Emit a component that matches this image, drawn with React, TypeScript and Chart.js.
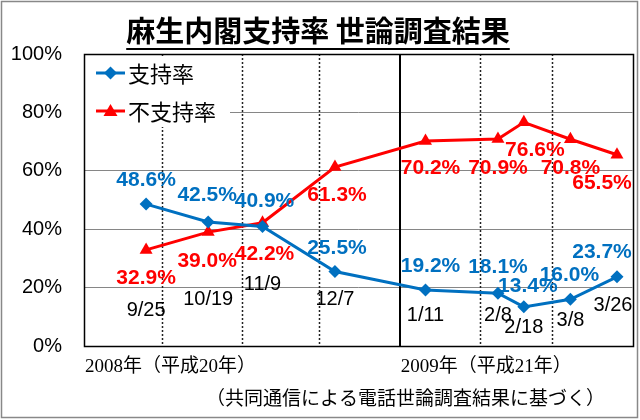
import React, { useEffect, useRef } from 'react';
import { Chart, registerables } from 'chart.js';

Chart.register(...registerables);

// ---- data ----
const titleText = '麻生内閣支持率 世論調査結果';
const seriesNames = ['支持率', '不支持率'];
const surveyDates = ['2008-09-25', '2008-10-19', '2008-11-09', '2008-12-07', '2009-01-11', '2009-02-08', '2009-02-18', '2009-03-08', '2009-03-26'];
const dateLabels = ['9/25', '10/19', '11/9', '12/7', '1/11', '2/8', '2/18', '3/8', '3/26'];
const supportRate = [48.6, 42.5, 40.9, 25.5, 19.2, 18.1, 13.4, 16.0, 23.7];
const disapprovalRate = [32.9, 39.0, 42.2, 61.3, 70.2, 70.9, 76.6, 70.8, 65.5];
const yTickValues = [0, 20, 40, 60, 80, 100];
const periodStart = '2008-09-01';
const periodEnd = '2009-04-01';
const monthStarts = ['2008-10-01', '2008-11-01', '2008-12-01', '2009-01-01', '2009-02-01', '2009-03-01'];
const yearBoundary = '2009-01-01';
const yearLabels = ['2008年（平成20年）', '2009年（平成21年）'];
const yearLabelStarts = ['2008-09-01', '2009-01-01'];
const sourceText = '（共同通信による電話世論調査結果に基づく）';

// ---- label placement (style) ----
const supportLabelShift = [[0, -24], [-1, -27], [2, -25], [2, -23], [5, -24], [0, -26], [4, -21], [-1, -24], [-15, -25]];
const disapprovalLabelShift = [[0, 28], [-1, 29], [2, 31], [2, 28], [5, 27], [0, 29], [11, 28], [0, 29], [-15, 28]];
const dateLabelLevel = [12, 16.1, 20.9, 16.1, 10.6, 10.6, 6.5, 8.6, 14];
const dateLabelShiftX = [0, 0, 0, 0, 0, 0, 0, 0, -4];

const BLUE = '#0070C0';
const RED = '#FF0000';
const DAY = 86400000;
const dayOf = (d: string) => Math.round((Date.parse(d) - Date.parse(periodStart)) / DAY);

const LATIN = '"Liberation Sans", "Noto Sans CJK JP", sans-serif';
const CJK = '"Noto Sans CJK JP", sans-serif';

const decor = {
  id: 'decor',
  beforeDraw(chart: any) {
    const { ctx, width, height } = chart;
    ctx.save();
    ctx.fillStyle = '#fff';
    ctx.fillRect(0, 0, width, height);
    ctx.restore();
  },
  beforeDatasetsDraw(chart: any) {
    const { ctx, chartArea, scales } = chart;
    const { left, top, bottom } = chartArea;
    const x = scales.x;
    ctx.save();
    monthStarts.forEach((d) => {
      const px = Math.round(x.getPixelForValue(dayOf(d)));
      ctx.beginPath();
      if (d === yearBoundary) {
        ctx.setLineDash([]);
        ctx.lineWidth = 2;
        ctx.strokeStyle = '#000';
        ctx.moveTo(px, top);
        ctx.lineTo(px, bottom);
      } else {
        ctx.setLineDash([2, 2]);
        ctx.lineWidth = 1.5;
        ctx.strokeStyle = '#222';
        ctx.moveTo(px + 0.5, top);
        ctx.lineTo(px + 0.5, bottom);
      }
      ctx.stroke();
    });
    ctx.setLineDash([]);
    // legend box
    ctx.fillStyle = '#fff';
    ctx.fillRect(left + 1, top + 3, 145, 70);
    const items = [
      { name: seriesNames[0], color: BLUE, shape: 'diamond', y: top + 19 },
      { name: seriesNames[1], color: RED, shape: 'triangle', y: top + 57 },
    ];
    items.forEach((it) => {
      ctx.strokeStyle = it.color;
      ctx.fillStyle = it.color;
      ctx.lineWidth = 3;
      ctx.beginPath();
      ctx.moveTo(left + 12, it.y);
      ctx.lineTo(left + 41, it.y);
      ctx.stroke();
      const cx = left + 26.5;
      ctx.beginPath();
      if (it.shape === 'diamond') {
        ctx.moveTo(cx, it.y - 6.5);
        ctx.lineTo(cx + 6.5, it.y);
        ctx.lineTo(cx, it.y + 6.5);
        ctx.lineTo(cx - 6.5, it.y);
      } else {
        ctx.moveTo(cx, it.y - 7);
        ctx.lineTo(cx + 7, it.y + 5);
        ctx.lineTo(cx - 7, it.y + 5);
      }
      ctx.closePath();
      ctx.fill();
      ctx.fillStyle = '#000';
      ctx.font = '22px ' + CJK;
      ctx.textAlign = 'left';
      ctx.textBaseline = 'middle';
      ctx.fillText(it.name, left + 44, it.y + 1);
    });
    ctx.restore();
  },
  afterDatasetsDraw(chart: any) {
    const { ctx, scales } = chart;
    const x = scales.x;
    const y = scales.y;
    ctx.save();
    ctx.textAlign = 'center';
    ctx.textBaseline = 'middle';
    // value labels
    ctx.font = 'bold 21px ' + LATIN;
    surveyDates.forEach((d, i) => {
      const px = x.getPixelForValue(dayOf(d));
      ctx.fillStyle = BLUE;
      ctx.fillText(supportRate[i].toFixed(1) + '%', px + supportLabelShift[i][0], y.getPixelForValue(supportRate[i]) + supportLabelShift[i][1]);
      ctx.fillStyle = RED;
      ctx.fillText(disapprovalRate[i].toFixed(1) + '%', px + disapprovalLabelShift[i][0], y.getPixelForValue(disapprovalRate[i]) + disapprovalLabelShift[i][1]);
    });
    // date labels
    ctx.font = '20px ' + LATIN;
    ctx.fillStyle = '#000';
    surveyDates.forEach((d, i) => {
      const px = x.getPixelForValue(dayOf(d));
      ctx.fillText(dateLabels[i], px + dateLabelShiftX[i], y.getPixelForValue(dateLabelLevel[i]));
    });
    ctx.restore();
  },
  afterDraw(chart: any) {
    const { ctx, chartArea, scales, width, height } = chart;
    const { left, top, right, bottom } = chartArea;
    const x = scales.x;
    ctx.save();
    // plot frame
    ctx.strokeStyle = '#000';
    ctx.lineWidth = 1.5;
    ctx.strokeRect(Math.round(left) + 0.5, Math.round(top) + 0.5, Math.round(right - left), Math.round(bottom - top));
    // year labels
    ctx.fillStyle = '#000';
    ctx.font = '19px "Liberation Serif", "Noto Sans CJK JP", serif';
    ctx.textAlign = 'left';
    ctx.textBaseline = 'middle';
    yearLabels.forEach((t, i) => {
      ctx.fillText(t, x.getPixelForValue(dayOf(yearLabelStarts[i])) + 1, bottom + 21);
    });
    // source
    ctx.font = '19px ' + CJK;
    ctx.fillText(sourceText, 206, 398);
    // title
    ctx.font = 'bold 29px ' + CJK;
    ctx.textAlign = 'center';
    ctx.fillText(titleText, 318, 31);
    const w = ctx.measureText(titleText).width;
    ctx.lineWidth = 2;
    ctx.beginPath();
    ctx.moveTo(318 - w / 2, 49);
    ctx.lineTo(318 + w / 2, 49);
    ctx.stroke();
    // outer frame
    ctx.strokeStyle = '#888';
    ctx.lineWidth = 1.5;
    ctx.strokeRect(1.5, 1.5, width - 4, height - 4);
    ctx.restore();
  },
};

export default function App() {
  const ref = useRef<HTMLCanvasElement | null>(null);
  useEffect(() => {
    if (!ref.current) return;
    const xs = surveyDates.map(dayOf);
    const chart = new Chart(ref.current, {
      type: 'line',
      data: {
        datasets: [
          {
            label: seriesNames[0],
            data: supportRate.map((v, i) => ({ x: xs[i], y: v })),
            borderColor: BLUE,
            backgroundColor: BLUE,
            borderWidth: 3,
            pointStyle: 'rectRot',
            pointRadius: 6.5,
            pointBorderWidth: 0,
            tension: 0,
          },
          {
            label: seriesNames[1],
            data: disapprovalRate.map((v, i) => ({ x: xs[i], y: v })),
            borderColor: RED,
            backgroundColor: RED,
            borderWidth: 3,
            pointStyle: 'triangle',
            pointRadius: 7.5,
            pointBorderWidth: 0,
            tension: 0,
          },
        ],
      },
      options: {
        responsive: false,
        animation: false,
        devicePixelRatio: 1,
        layout: { padding: { left: 0, top: 54, right: 7, bottom: 74 } },
        plugins: { legend: { display: false }, tooltip: { enabled: false }, title: { display: false } },
        scales: {
          x: {
            type: 'linear',
            display: false,
            min: dayOf(periodStart),
            max: dayOf(periodEnd),
          },
          y: {
            min: 0,
            max: 100,
            afterBuildTicks: (scale: any) => {
              scale.ticks = yTickValues.map((v) => ({ value: v }));
            },
            afterFit: (scale: any) => {
              scale.width = 84;
            },
            ticks: {
              callback: (v: any) => v + '%',
              color: '#000',
              font: { family: LATIN, size: 20 },
              padding: 22,
            },
            grid: { color: '#868686', lineWidth: 1, drawTicks: false },
            border: { display: false },
          },
        },
      },
      plugins: [decor],
    } as any);
    return () => chart.destroy();
  }, []);
  return (
    <div style={{ position: 'fixed', left: 0, top: 0, width: 640, height: 420 }}>
      <canvas ref={ref} width={640} height={420} style={{ display: 'block', width: 640, height: 420 }} />
    </div>
  );
}
